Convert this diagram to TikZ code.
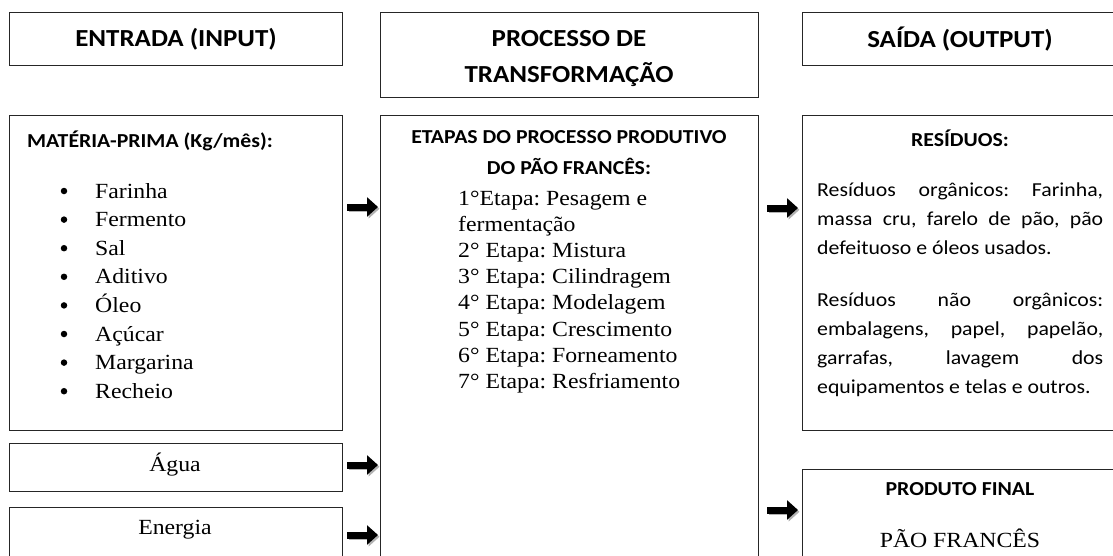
\documentclass[tikz,border=0pt]{standalone}
\usepackage{fontspec}
\setmainfont{Liberation Serif}[FakeStretch=1.1]
\newfontfamily\calib{Carlito}[FakeStretch=1.1]
\usetikzlibrary{arrows.meta}
\begin{document}
\frenchspacing
\begin{tikzpicture}[x=1pt,y=-1pt,
  box/.style={draw=black!85, line width=1.1pt, inner sep=0pt, anchor=north west},
  headtxt/.style={font=\calib\bfseries\fontsize{24.5}{36}\selectfont, align=center, inner sep=0pt},
  subhead/.style={font=\calib\bfseries\fontsize{19.8}{28.5}\selectfont, inner sep=0pt},
  serif/.style={font=\fontsize{21.6}{28.6}\selectfont, inner sep=0pt},
  bodytxt/.style={font=\calib\fontsize{19.8}{28.5}\selectfont, inner sep=0pt, anchor=base west},
  bulletdot/.style={circle, fill=black, inner sep=0pt, minimum size=6.5pt},
  fatarrow/.style={draw=black, line width=7pt, -{Triangle[length=11pt,width=19pt]}},
  arrowshadow/.style={draw=black!30, line width=7pt, -{Triangle[length=11pt,width=19pt]}, transform canvas={xshift=1.5pt,yshift=-1.8pt}}
]
\useasboundingbox (0,0) rectangle (1113,555);
\clip (0,0) rectangle (1113,555);

% header boxes
\node[box, headtxt, minimum width=333pt, minimum height=53pt] (entrada) at (9,12) {ENTRADA (INPUT)};
\node[box, minimum width=378pt, minimum height=85pt] (processo) at (380,12) {};
\node[headtxt] (processotxt) at (569,59) {PROCESSO DE\\TRANSFORMAÇÃO};
\node[box, minimum width=325pt, minimum height=53pt] (saida) at (802,12) {};
\node[headtxt] (saidatxt) at (960,39) {SAÍDA (OUTPUT)};

% left column
\node[box, minimum width=333pt, minimum height=315pt] (materia) at (9,115) {};
\node[box, minimum width=333pt, minimum height=48pt] (agua) at (9,443) {};
\node[box, minimum width=333pt, minimum height=60pt] (energia) at (9,507) {};
\node[subhead, anchor=west] (mptitle) at (27,141) {MATÉRIA-PRIMA (Kg/mês):};
\foreach \t [count=\i from 0] in {Farinha,Fermento,Sal,Aditivo,Óleo,Açúcar,Margarina,Recheio}{
  \node[bulletdot] (bul\i) at (64,{191+28.6*\i}) {};
  \node[serif, anchor=base west] (item\i) at (95,{198+28.6*\i}) {\t};
}
\node[serif] (aguatxt) at (175,465) {Água};
\node[serif] (energiatxt) at (175,530) {Energia};

% middle column
\node[box, minimum width=378pt, minimum height=460pt] (etapasbox) at (380,115) {};
\node[subhead] (etapas1) at (569,137) {ETAPAS DO PROCESSO PRODUTIVO};
\node[subhead] (etapas2) at (569,166) {DO PÃO FRANCÊS:};
\foreach \t [count=\i from 0] in {1°Etapa: Pesagem e,fermentação,2° Etapa: Mistura,3° Etapa: Cilindragem,4° Etapa: Modelagem,5° Etapa: Crescimento,6° Etapa: Forneamento,7° Etapa: Resfriamento}{
  \node[serif, anchor=base west] (step\i) at (458,{205+26.2*\i}) {\t};
}

% right column
\node[box, minimum width=325pt, minimum height=315pt] (residuos) at (802,115) {};
\node[subhead] (restitle) at (960,138) {RESÍDUOS:};
\node[bodytxt] (r1) at (817,196) {\makebox[286pt][s]{Resíduos orgânicos: Farinha,}};
\node[bodytxt] (r2) at (817,225) {\makebox[286pt][s]{massa cru, farelo de pão, pão}};
\node[bodytxt] (r3) at (817,254) {defeituoso e óleos usados.};
\node[bodytxt] (r4) at (817,306) {\makebox[286pt][s]{Resíduos não orgânicos:}};
\node[bodytxt] (r5) at (817,335) {\makebox[286pt][s]{embalagens, papel, papelão,}};
\node[bodytxt] (r6) at (817,364) {\makebox[286pt][s]{garrafas, lavagem dos}};
\node[bodytxt] (r7) at (817,393) {equipamentos e telas e outros.};

\node[box, minimum width=325pt, minimum height=100pt] (produto) at (802,469) {};
\node[subhead] (prodtitle) at (960,489) {PRODUTO FINAL};
\node[serif] (prodtxt) at (960,538) {PÃO FRANCÊS};

% arrows
\coordinate (a1s) at (347,207); \coordinate (a1e) at (378,207);
\coordinate (a2s) at (347,465); \coordinate (a2e) at (378,465);
\coordinate (a3s) at (347,535); \coordinate (a3e) at (378,535);
\coordinate (a4s) at (767,208); \coordinate (a4e) at (798,208);
\coordinate (a5s) at (767,510); \coordinate (a5e) at (798,510);
\foreach \s/\e in {a1s/a1e,a2s/a2e,a3s/a3e,a4s/a4e,a5s/a5e}{
  \draw[arrowshadow] (\s) -- (\e);
  \draw[fatarrow] (\s) -- (\e);
}
\end{tikzpicture}
\end{document}
